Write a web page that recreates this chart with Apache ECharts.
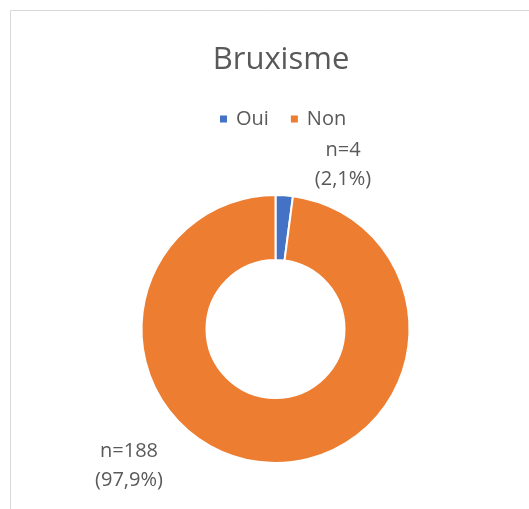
<!DOCTYPE html>
<html><head><meta charset="utf-8">
<script src="https://cdn.jsdelivr.net/npm/echarts@6/dist/echarts.min.js"></script>
<style>html,body{margin:0;padding:0;background:#fff}#c{width:529px;height:509px}</style>
</head><body><div id="c"></div>
<script>
const categories = ['Oui', 'Non'];
const counts = [4, 188];
const percents = ['2,1%', '97,9%'];
const colors = ['#4472C4', '#ED7D31'];
const labelSpots = [[343, 165], [129, 466]];

const chart = echarts.init(document.getElementById('c'));
const font = '"Open Sans", sans-serif';
chart.setOption({
  animation: false,
  backgroundColor: '#fff',
  graphic: [{
    type: 'rect', shape: {x: 10.5, y: 10.5, width: 540, height: 520},
    style: {fill: 'none', stroke: '#d9d9d9', lineWidth: 1}
  }],
  title: {
    text: 'Bruxisme', left: 276, top: 40, textAlign: 'center',
    textStyle: {fontFamily: font, fontSize: 31, fontWeight: 'normal', color: '#595959'}
  },
  legend: {
    data: categories, left: 218, top: 109, icon: 'rect', itemWidth: 9, itemHeight: 9, itemGap: 20,
    padding: 0,
    textStyle: {fontFamily: font, fontSize: 20, color: '#595959', padding: [0, 0, 0, 3]}
  },
  series: [{
    type: 'pie', center: [275.5, 329], radius: [69, 134], startAngle: 90, clockwise: true,
    itemStyle: {borderColor: '#fff', borderWidth: 2},
    label: {
      show: true, position: 'outside', fontFamily: font, fontSize: 20, color: '#595959', lineHeight: 29,
      align: 'center',
      formatter: p => 'n=' + counts[p.dataIndex] + '\n(' + percents[p.dataIndex] + ')'
    },
    labelLine: {show: false},
    labelLayout: p => ({x: labelSpots[p.dataIndex][0], y: labelSpots[p.dataIndex][1], align: 'center', verticalAlign: 'middle'}),
    emphasis: {disabled: true},
    data: categories.map((c, i) => ({name: c, value: counts[i], itemStyle: {color: colors[i]}}))
  }]
});
</script></body></html>
